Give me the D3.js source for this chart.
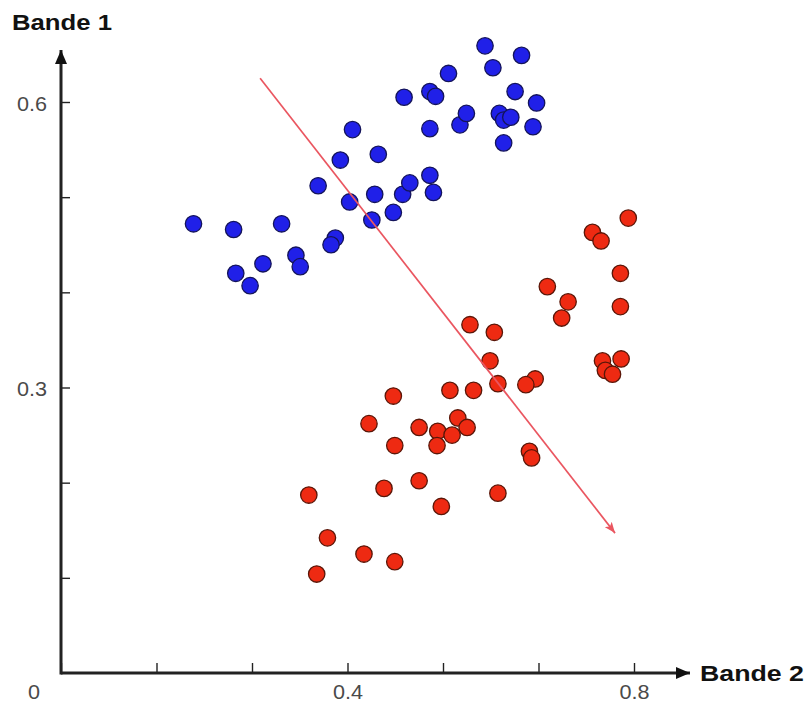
<!DOCTYPE html>
<html>
<head>
<meta charset="utf-8">
<script src="https://cdn.jsdelivr.net/npm/d3@7/dist/d3.min.js"></script>
<style>
  html, body { margin: 0; padding: 0; background: #fff; }
  svg { display: block; }
  text { font-family: "Liberation Sans", Arial, Helvetica, sans-serif; }
</style>
</head>
<body>
<svg id="chart" width="809" height="704"></svg>
<script>
// ---- Data (Bande 2 = x, Bande 1 = y) ----
const blueX = [0.185,0.241,0.308,0.244,0.264,0.282,0.328,0.334,0.383,0.377,0.359,0.390,0.407,0.403,0.434,0.438,0.443,0.464,0.477,0.487,0.515,0.520,0.479,0.515,0.515,0.523,0.541,0.557,0.566,0.592,0.603,0.643,0.634,0.612,0.618,0.628,0.618,0.664,0.659];
const blueY = [0.472,0.466,0.472,0.420,0.407,0.430,0.439,0.427,0.457,0.450,0.512,0.539,0.571,0.495,0.476,0.503,0.545,0.484,0.503,0.515,0.523,0.505,0.605,0.572,0.611,0.606,0.630,0.576,0.588,0.659,0.636,0.649,0.611,0.588,0.581,0.584,0.557,0.599,0.574];
const redX = [0.792,0.742,0.754,0.781,0.679,0.708,0.699,0.781,0.756,0.782,0.760,0.770,0.662,0.649,0.571,0.605,0.599,0.610,0.464,0.543,0.576,0.430,0.500,0.526,0.554,0.546,0.567,0.466,0.525,0.654,0.657,0.451,0.500,0.610,0.531,0.346,0.372,0.423,0.466,0.357];
const redY = [0.478,0.463,0.454,0.420,0.406,0.390,0.373,0.385,0.328,0.330,0.318,0.314,0.309,0.303,0.366,0.358,0.328,0.304,0.291,0.297,0.297,0.262,0.258,0.254,0.268,0.250,0.258,0.239,0.239,0.233,0.226,0.194,0.202,0.189,0.175,0.187,0.142,0.125,0.117,0.104];
const arrowFrom = [0.278, 0.625];
const arrowTo = [0.7735, 0.147];
const xTicks = [0, 0.4/3, 0.8/3, 0.4, 1.6/3, 2/3, 0.8];
const xTickLabels = ["", "", "", "0.4", "", "", "0.8"];
const yTicks = [0.1, 0.2, 0.3, 0.4, 0.5, 0.6];
const yTickLabels = ["", "", "0.3", "", "", "0.6"];
const xTitle = "Bande 2";
const yTitle = "Bande 1";
const originLabel = "0";

// ---- Layout ----
const svg = d3.select("#chart");
const x = d3.scaleLinear().domain([0, 0.8]).range([61, 634]);
const y = d3.scaleLinear().domain([0, 0.6]).range([673, 102]);

const defs = svg.append("defs");
defs.append("marker").attr("id", "axisArrow")
  .attr("viewBox", "0 0 14 12").attr("refX", 14).attr("refY", 6)
  .attr("markerWidth", 14).attr("markerHeight", 12)
  .attr("markerUnits", "userSpaceOnUse").attr("orient", "auto")
  .append("path").attr("d", "M0,0 L14,6 L0,12 Z").attr("fill", "#111");
defs.append("marker").attr("id", "redArrow")
  .attr("viewBox", "0 0 10 8").attr("refX", 10).attr("refY", 4)
  .attr("markerWidth", 11).attr("markerHeight", 9)
  .attr("markerUnits", "userSpaceOnUse").attr("orient", "auto")
  .append("path").attr("d", "M0,0 L10,4 L0,8 L2.5,4 Z").attr("fill", "#ea5660");

// x axis ticks
const xAxis = d3.axisBottom(x).tickValues(xTicks).tickSize(-10).tickPadding(12)
  .tickFormat((d, i) => xTickLabels[i]);
const gx = svg.append("g").attr("transform", `translate(0,${y(0)})`).call(xAxis);
gx.select(".domain").remove();
gx.selectAll(".tick line").attr("stroke", "#222").attr("stroke-width", 1.4);
gx.selectAll(".tick text").attr("fill", "#4a4a4a").attr("font-size", 20);

// y axis ticks
const yAxis = d3.axisLeft(y).tickValues(yTicks).tickSize(-9).tickPadding(14)
  .tickFormat((d, i) => yTickLabels[i]);
const gy = svg.append("g").attr("transform", `translate(${x(0)},0)`).call(yAxis);
gy.select(".domain").remove();
gy.selectAll(".tick line").attr("stroke", "#222").attr("stroke-width", 1.4);
gy.selectAll(".tick text").attr("fill", "#4a4a4a").attr("font-size", 20).attr("dy", "0.42em");

// stretch tick label text slightly (reference glyphs are wide)
svg.selectAll(".tick text").each(function() {
  const t = d3.select(this);
  const s = t.text();
  if (s) t.attr("textLength", 30).attr("lengthAdjust", "spacingAndGlyphs");
});

// axis lines with arrowheads
svg.append("line").attr("x1", x(0)).attr("y1", y(0)).attr("x2", 690).attr("y2", y(0))
  .attr("stroke", "#222").attr("stroke-width", 3).attr("marker-end", "url(#axisArrow)");
svg.append("line").attr("x1", x(0)).attr("y1", y(0) + 1.5).attr("x2", x(0)).attr("y2", 50)
  .attr("stroke", "#222").attr("stroke-width", 3).attr("marker-end", "url(#axisArrow)");

// origin label
svg.append("text").attr("x", 34).attr("y", 699).attr("text-anchor", "middle")
  .attr("fill", "#4a4a4a").attr("font-size", 20).attr("textLength", 12)
  .attr("lengthAdjust", "spacingAndGlyphs").text(originLabel);

// titles
svg.append("text").attr("x", 12).attr("y", 30).attr("font-size", 22).attr("font-weight", "bold")
  .attr("fill", "#111").attr("textLength", 100).attr("lengthAdjust", "spacingAndGlyphs").text(yTitle);
svg.append("text").attr("x", 700).attr("y", 681).attr("font-size", 22).attr("font-weight", "bold")
  .attr("fill", "#111").attr("textLength", 104).attr("lengthAdjust", "spacingAndGlyphs").text(xTitle);

// points
const blue = blueX.map((v, i) => [v, blueY[i]]);
const red = redX.map((v, i) => [v, redY[i]]);
svg.append("g").selectAll("circle").data(blue).join("circle")
  .attr("cx", d => x(d[0])).attr("cy", d => y(d[1])).attr("r", 8.2)
  .attr("fill", "#2020e8").attr("stroke", "#14145a").attr("stroke-width", 1.3);
svg.append("g").selectAll("circle").data(red).join("circle")
  .attr("cx", d => x(d[0])).attr("cy", d => y(d[1])).attr("r", 8.2)
  .attr("fill", "#ee2a12").attr("stroke", "#5a1608").attr("stroke-width", 1.3);

// red direction arrow
svg.append("line")
  .attr("x1", x(arrowFrom[0])).attr("y1", y(arrowFrom[1]))
  .attr("x2", x(arrowTo[0])).attr("y2", y(arrowTo[1]))
  .attr("stroke", "#ea5660").attr("stroke-width", 1.7).attr("marker-end", "url(#redArrow)");
</script>
</body>
</html>
